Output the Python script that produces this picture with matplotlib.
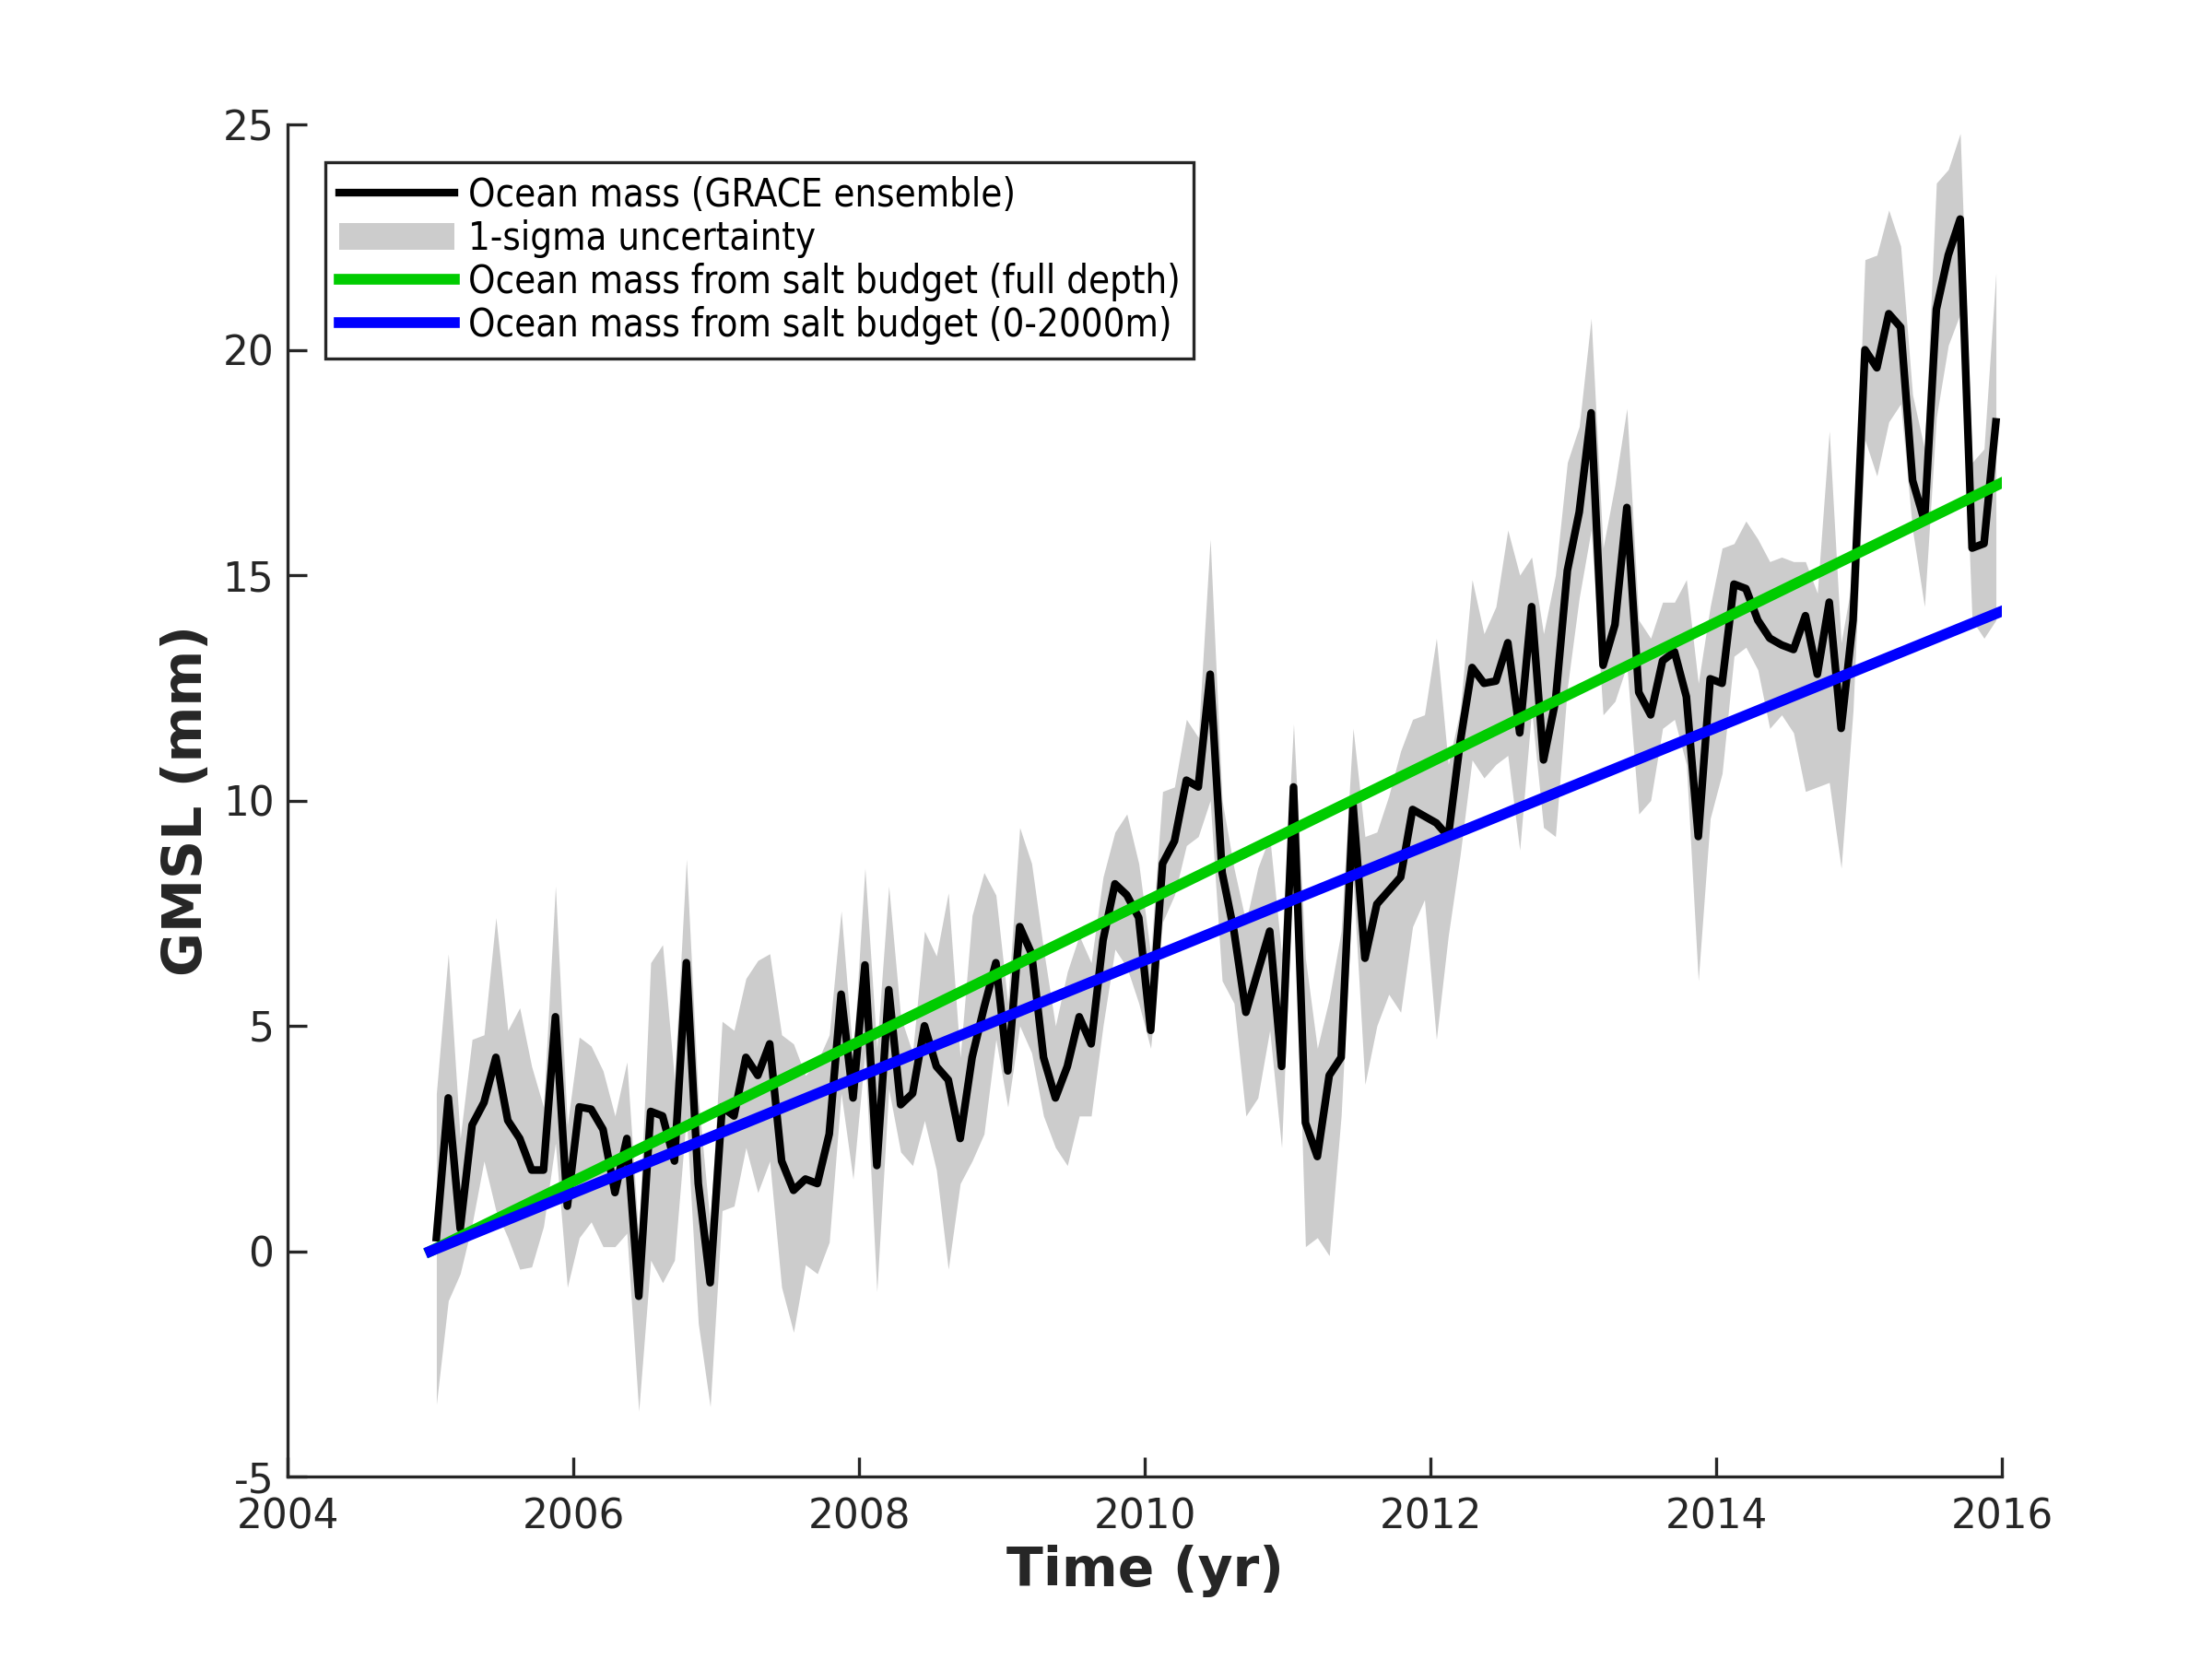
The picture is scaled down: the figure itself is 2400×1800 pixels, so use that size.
import matplotlib
matplotlib.use('Agg')
import matplotlib.pyplot as plt
from matplotlib.patches import Patch
import numpy as np

# monthly GRACE ensemble ocean mass, Jan 2005 .. Dec 2015 (mm)
ocean_mass = [
    0.3, 3.4, 0.5, 2.8, 3.3, 4.3, 2.9, 2.5, 1.8, 1.8, 5.2, 1.0,
    3.2, 3.15, 2.7, 1.3, 2.5, -1.0, 3.1, 3.0, 2.0, 6.4, 1.5, -0.7,
    3.2, 3.0, 4.3, 3.9, 4.6, 2.0, 1.35, 1.6, 1.5, 2.6, 5.7, 3.4,
    6.35, 1.9, 5.8, 3.25, 3.5, 5.0, 4.1, 3.8, 2.5, 4.3, 5.4, 6.4,
    4.0, 7.2, 6.6, 4.3, 3.4, 4.1, 5.2, 4.6, 6.9, 8.15, 7.9, 7.4,
    4.9, 8.6, 9.1, 10.45, 10.3, 12.8, 8.4, 7.1, 5.3, 6.2, 7.1, 4.1,
    10.3, 2.85, 2.1, 3.9, 4.3, 9.9, 6.5, 7.7, 8.0, 8.3, 9.8, 9.65,
    9.5, 9.2, 11.3, 12.95, 12.6, 12.65, 13.5, 11.5, 14.3, 10.9, 12.2, 15.1,
    16.4, 18.6, 13.0, 13.9, 16.5, 12.4, 11.9, 13.1, 13.3, 12.3, 9.2, 12.7,
    12.6, 14.8, 14.7, 14.0, 13.6, 13.45, 13.35, 14.1, 12.8, 14.4, 11.6, 14.0,
    20.0, 19.6, 20.8, 20.5, 17.1, 16.2, 20.9, 22.1, 22.9, 15.6, 15.7, 18.4,
]

# 1-sigma envelope
sigma_upper = [
    3.5, 6.6, 2.5, 4.7, 4.8, 7.4, 4.9, 5.4, 4.1, 3.2, 8.1, 2.8,
    4.75, 4.55, 4.0, 3.0, 4.2, 0.3, 6.4, 6.8, 3.8, 8.7, 3.4, 0.6,
    5.1, 4.9, 6.05, 6.45, 6.6, 4.8, 4.6, 3.9, 4.2, 4.8, 7.55, 4.3,
    8.5, 4.5, 8.1, 5.2, 4.4, 7.1, 6.55, 7.95, 4.3, 7.45, 8.4, 7.9,
    5.5, 9.4, 8.6, 6.7, 5.0, 6.2, 7.0, 6.4, 8.3, 9.3, 9.7, 8.6,
    6.6, 10.2, 10.3, 11.8, 11.4, 15.8, 10.0, 8.5, 7.3, 8.5, 9.2, 6.6,
    11.7, 6.5, 4.5, 5.6, 7.1, 11.6, 9.2, 9.3, 10.1, 11.1, 11.8, 11.9,
    13.6, 10.8, 12.0, 14.9, 13.7, 14.3, 16.0, 15.0, 15.4, 13.7, 15.0, 17.5,
    18.3, 20.7, 15.6, 17.0, 18.7, 14.0, 13.6, 14.4, 14.4, 14.9, 12.6, 14.3,
    15.6, 15.7, 16.2, 15.8, 15.3, 15.4, 15.3, 15.3, 14.6, 18.2, 13.5, 15.0,
    22.0, 22.1, 23.1, 22.3, 19.0, 17.8, 23.7, 24.0, 24.8, 17.5, 17.8, 21.7,
]
sigma_lower = [
    -3.4, -1.1, -0.5, 0.6, 2.0, 0.9, 0.3, -0.4, -0.35, 0.55, 2.4, -0.8,
    0.3, 0.65, 0.1, 0.1, 0.4, -3.55, -0.2, -0.7, -0.2, 3.0, -1.6, -3.45,
    0.9, 1.0, 2.3, 1.3, 2.0, -0.8, -1.8, -0.3, -0.5, 0.2, 3.5, 1.6,
    4.4, -0.9, 3.6, 2.2, 1.9, 2.9, 1.8, -0.4, 1.5, 2.0, 2.6, 4.7,
    3.2, 5.0, 4.4, 3.0, 2.3, 1.9, 3.0, 3.0, 5.0, 6.7, 6.3, 5.5,
    4.5, 7.3, 7.9, 9.0, 9.2, 10.0, 6.0, 5.5, 3.0, 3.4, 4.9, 2.3,
    8.8, 0.1, 0.3, -0.1, 3.0, 8.3, 3.7, 5.0, 5.7, 5.3, 7.2, 7.8,
    4.7, 7.0, 8.8, 10.9, 10.5, 10.8, 11.0, 8.9, 12.0, 9.4, 9.2, 12.5,
    14.5, 16.0, 11.9, 12.2, 13.0, 9.7, 10.0, 11.6, 11.8, 10.8, 6.0, 9.6,
    10.6, 13.2, 13.4, 12.9, 11.6, 11.9, 11.5, 10.2, 10.3, 10.4, 8.5, 12.0,
    18.0, 17.2, 18.4, 18.8, 16.0, 14.3, 18.5, 20.1, 20.8, 14.0, 13.6, 14.0,
]

# salt budget trends (start / end of period)
trend_years = [2005.0, 2016.0]
salt_full_depth = [0.0, 17.05]
salt_2000m = [0.0, 14.2]

time = 2005 + (np.arange(len(ocean_mass)) + 0.5) / 12.0

plt.rcParams['font.family'] = 'DejaVu Sans'
plt.rcParams['axes.unicode_minus'] = False
axcol = '#262626'

fig = plt.figure(figsize=(8, 6), dpi=300)
ax = fig.add_axes([0.13, 0.11, 0.775, 0.815])

ax.fill_between(time, sigma_lower, sigma_upper, color='#cccccc', lw=0)
ax.plot(time, ocean_mass, color='k', lw=2.0)
ax.plot(trend_years, salt_full_depth, color='#00cc00', lw=2.8)
ax.plot(trend_years, salt_2000m, color='#0000ff', lw=2.8)

ax.set_xlim(2004, 2016)
ax.set_ylim(-5, 25)
ax.set_xticks(np.arange(2004, 2017, 2))
ax.set_yticks(np.arange(-5, 26, 5))
ax.spines['top'].set_visible(False)
ax.spines['right'].set_visible(False)
for s in ['left', 'bottom']:
    ax.spines[s].set_color(axcol)
    ax.spines[s].set_linewidth(0.8)
ax.tick_params(direction='in', length=5, width=0.8, colors=axcol, labelsize=10.5)
ax.tick_params(axis='x', pad=5.5)

ax.set_xlabel('Time (yr)', fontsize=14, fontweight='bold', color=axcol, labelpad=2)
ax.set_ylabel('GMSL (mm)', fontsize=14, fontweight='bold', color=axcol, labelpad=2.5)

handles = [
    plt.Line2D([], [], color='k', lw=2.0),
    Patch(facecolor='#cccccc', edgecolor='none'),
    plt.Line2D([], [], color='#00cc00', lw=2.8),
    plt.Line2D([], [], color='#0000ff', lw=2.8),
]
labels = ['Ocean mass (GRACE ensemble)', '1-sigma uncertainty',
          'Ocean mass from salt budget (full depth)',
          'Ocean mass from salt budget (0-2000m)']
leg = ax.legend(handles, labels, loc='upper left', bbox_to_anchor=(0.022, 0.972),
                prop={'family': 'DejaVu Sans', 'stretch': 'condensed', 'size': 10.0},
                fancybox=False, framealpha=1, edgecolor='#262626',
                handlelength=3.0, handletextpad=0.35, labelspacing=0.12,
                borderpad=0.36, borderaxespad=0)
leg.get_frame().set_linewidth(0.8)

fig.savefig('out.png', dpi=300, facecolor='white')
